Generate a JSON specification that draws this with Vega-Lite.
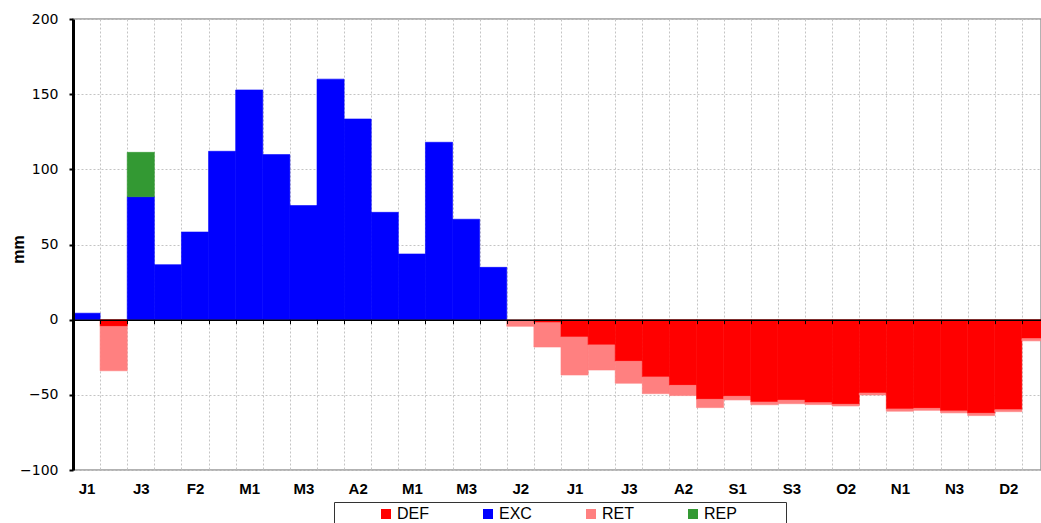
{
  "$schema": "https://vega.github.io/schema/vega-lite/v6.json",
  "autosize": {"type": "none"},
  "padding": {"left": 73, "top": 19, "right": 0, "bottom": 53},
  "width": 968,
  "height": 451,
  "background": "white",
  "config": {"view": {"stroke": "#999999", "strokeWidth": 1.5}, "font": "Liberation Sans"},
  "data": {"values": [
    {"p": 0, "cat": "EXC", "v": 4.3},
    {"p": 1, "cat": "DEF", "v": -4.5},
    {"p": 1, "cat": "RET", "v": -29.5},
    {"p": 2, "cat": "EXC", "v": 81.8},
    {"p": 2, "cat": "REP", "v": 29.5},
    {"p": 3, "cat": "EXC", "v": 36.6},
    {"p": 4, "cat": "EXC", "v": 58.3},
    {"p": 5, "cat": "EXC", "v": 112},
    {"p": 6, "cat": "EXC", "v": 152.8},
    {"p": 7, "cat": "EXC", "v": 109.8},
    {"p": 8, "cat": "EXC", "v": 75.9},
    {"p": 9, "cat": "EXC", "v": 160},
    {"p": 10, "cat": "EXC", "v": 133.5},
    {"p": 11, "cat": "EXC", "v": 71.4},
    {"p": 12, "cat": "EXC", "v": 43.7},
    {"p": 13, "cat": "EXC", "v": 118},
    {"p": 14, "cat": "EXC", "v": 66.8},
    {"p": 15, "cat": "EXC", "v": 34.8},
    {"p": 16, "cat": "RET", "v": -4.4},
    {"p": 17, "cat": "DEF", "v": -2},
    {"p": 17, "cat": "RET", "v": -16.2},
    {"p": 18, "cat": "DEF", "v": -11.5},
    {"p": 18, "cat": "RET", "v": -25.3},
    {"p": 19, "cat": "DEF", "v": -16.8},
    {"p": 19, "cat": "RET", "v": -16.7},
    {"p": 20, "cat": "DEF", "v": -27.7},
    {"p": 20, "cat": "RET", "v": -14.6},
    {"p": 21, "cat": "DEF", "v": -38.1},
    {"p": 21, "cat": "RET", "v": -11.1},
    {"p": 22, "cat": "DEF", "v": -43.7},
    {"p": 22, "cat": "RET", "v": -6.8},
    {"p": 23, "cat": "DEF", "v": -53},
    {"p": 23, "cat": "RET", "v": -5.5},
    {"p": 24, "cat": "DEF", "v": -51},
    {"p": 24, "cat": "RET", "v": -2.4},
    {"p": 25, "cat": "DEF", "v": -54.8},
    {"p": 25, "cat": "RET", "v": -1.8},
    {"p": 26, "cat": "DEF", "v": -53.6},
    {"p": 26, "cat": "RET", "v": -2.3},
    {"p": 27, "cat": "DEF", "v": -55.2},
    {"p": 27, "cat": "RET", "v": -1.3},
    {"p": 28, "cat": "DEF", "v": -56.3},
    {"p": 28, "cat": "RET", "v": -1.1},
    {"p": 29, "cat": "DEF", "v": -48.8},
    {"p": 29, "cat": "RET", "v": -1.3},
    {"p": 30, "cat": "DEF", "v": -59.4},
    {"p": 30, "cat": "RET", "v": -1.5},
    {"p": 31, "cat": "DEF", "v": -59},
    {"p": 31, "cat": "RET", "v": -1.3},
    {"p": 32, "cat": "DEF", "v": -60.7},
    {"p": 32, "cat": "RET", "v": -1.3},
    {"p": 33, "cat": "DEF", "v": -62.3},
    {"p": 33, "cat": "RET", "v": -1.5},
    {"p": 34, "cat": "DEF", "v": -59.9},
    {"p": 34, "cat": "RET", "v": -1.3},
    {"p": 35, "cat": "DEF", "v": -12.6},
    {"p": 35, "cat": "RET", "v": -1.5}
  ]},
  "layer": [
    {
      "mark": {"type": "bar", "opacity": 0},
      "encoding": {
        "x": {
          "field": "p",
          "type": "ordinal",
          "scale": {"type": "band", "paddingInner": 0, "paddingOuter": 0, "range": [0, 976]},
          "axis": {
            "orient": "bottom",
            "title": null,
            "tickBand": "extent",
            "domain": false,
            "ticks": false,
            "labels": false,
            "grid": true,
            "gridColor": "#c4c4c4",
            "gridDash": [2, 2],
            "gridWidth": 1,
            "zindex": 0
          }
        },
        "y": {
          "field": "v",
          "type": "quantitative",
          "stack": "zero",
          "scale": {"domain": [-100, 200], "nice": false},
          "axis": {
            "orient": "left",
            "title": null,
            "values": [-100, -50, 0, 50, 100, 150, 200],
            "domain": false,
            "ticks": false,
            "labels": false,
            "grid": true,
            "gridColor": "#c4c4c4",
            "gridDash": [2, 2],
            "gridWidth": 1,
            "zindex": 0
          }
        }
      }
    },
    {
      "mark": {"type": "bar", "strokeWidth": 0.6},
      "encoding": {
        "x": {
          "field": "p",
          "type": "ordinal",
          "scale": {"type": "band", "paddingInner": 0, "paddingOuter": 0, "range": [0, 976]},
          "axis": {
            "orient": "bottom",
            "title": null,
            "tickBand": "extent",
            "offset": -150.33,
            "grid": false,
            "domainColor": "#000000",
            "domainWidth": 1.5,
            "tickColor": "#000000",
            "tickSize": 4,
            "tickWidth": 1,
            "labelAngle": 0,
            "labelFont": "Liberation Sans",
            "labelFontWeight": "bold",
            "labelFontSize": 15,
            "labelColor": "#000000",
            "labelPadding": 158,
            "labelExpr": "datum.value % 2 == 0 ? ['J1','J2','J3','F1','F2','F3','M1','M2','M3','A1','A2','A3','M1','M2','M3','J1','J2','J3','J1','J2','J3','A1','A2','A3','S1','S2','S3','O1','O2','O3','N1','N2','N3','D1','D2','D3'][datum.value] : ''",
            "zindex": 1
          }
        },
        "y": {
          "field": "v",
          "type": "quantitative",
          "stack": "zero",
          "scale": {"domain": [-100, 200], "nice": false},
          "axis": {
            "orient": "left",
            "title": "mm",
            "values": [-100, -50, 0, 50, 100, 150, 200],
            "grid": false,
            "domainColor": "#000000",
            "domainWidth": 3,
            "tickColor": "#000000",
            "tickSize": 4,
            "tickWidth": 2,
            "labelFont": "DejaVu Sans",
            "labelFontSize": 14,
            "labelColor": "#000000",
            "labelPadding": 11,
            "titleFont": "Liberation Sans",
            "titleFontWeight": "bold",
            "titleFontSize": 16,
            "titleColor": "#000000",
            "titleX": -46.7,
            "titleY": 230,
            "zindex": 1
          }
        },
        "color": {
          "field": "cat",
          "type": "nominal",
          "scale": {"domain": ["DEF", "EXC", "RET", "REP"], "range": ["#ff0000", "#0000ff", "#ff8080", "#339933"]},
          "legend": {
            "orient": "none",
            "legendX": 261,
            "legendY": 483,
            "direction": "horizontal",
            "title": " ",
            "titleOrient": "left",
            "titlePadding": 40,
            "titleFontSize": 14,
            "symbolType": "square",
            "symbolSize": 100,
            "symbolStrokeWidth": 0,
            "labelFont": "Liberation Sans",
            "labelFontSize": 16,
            "labelColor": "#000000",
            "labelOffset": 3,
            "columnPadding": 51,
            "padding": 4,
            "strokeColor": "#333333",
            "labelExpr": "datum.label == 'REP' ? 'REP          \u200b' : datum.label"
          }
        },
        "stroke": {
          "field": "cat",
          "type": "nominal",
          "scale": {"domain": ["DEF", "EXC", "RET", "REP"], "range": ["#ff0000", "#0000ff", "#ff8080", "#339933"]},
          "legend": null
        },
        "order": {"field": "cat", "sort": "ascending"}
      }
    }
  ],
  "resolve": {"axis": {"x": "independent", "y": "independent"}}
}
